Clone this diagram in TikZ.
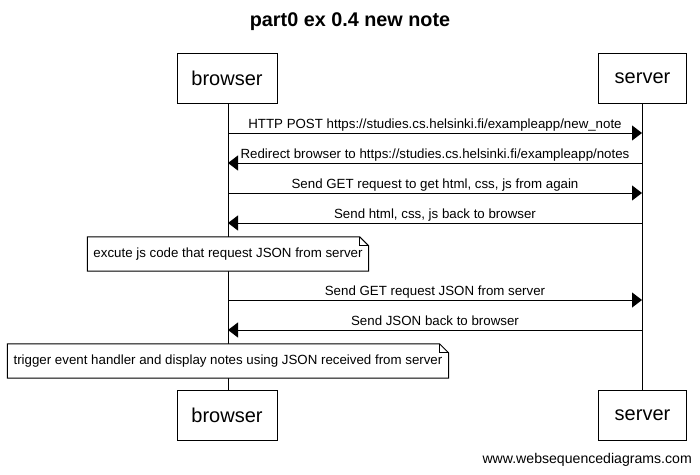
\documentclass[tikz,border=0pt]{standalone}
\usepackage{fontspec}
\setmainfont{Liberation Sans}
\usetikzlibrary{arrows.meta}
\begin{document}
\begin{tikzpicture}[x=1pt,y=-1pt,
  actor/.style={draw,line width=1pt,minimum width=100pt,minimum height=50pt,font=\fontsize{20}{24}\selectfont,inner sep=0pt,fill=white},
  actorS/.style={actor,minimum width=88pt},
  life/.style={line width=1pt},
  msg/.style={line width=1pt,-{Triangle[length=10pt,width=15pt]}},
  lbl/.style={anchor=base,font=\fontsize{13.3}{15}\selectfont,inner sep=0pt},
  notebox/.style={minimum height=34pt,inner xsep=6pt,font=\fontsize{13.3}{15}\selectfont},
  noteline/.style={line width=1pt,fill=white}
]
\useasboundingbox (0,0) rectangle (700,474);
\node[font=\bfseries\fontsize{19.8}{23}\selectfont] (title) at (350,22) {part0 ex 0.4 new note};
% actors
\node[actor] (bt) at (227,78) {browser};
\node[actorS] (st) at (642.5,78) {server};
\node[actor] (bb) at (227,415) {browser};
\node[actorS] (sb) at (642.5,415) {server};
% lifelines
\draw[life] (bt.south -| 228,0) coordinate (bl1) -- (bb.north -| 228,0) coordinate (bl2);
\draw[life] (st.south -| 642,0) coordinate (sl1) -- (sb.north -| 642,0) coordinate (sl2);
% message endpoints
\coordinate (b1) at (228,133); \coordinate (s1) at (642,133);
\coordinate (b2) at (228,163); \coordinate (s2) at (642,163);
\coordinate (b3) at (228,193); \coordinate (s3) at (642,193);
\coordinate (b4) at (228,223); \coordinate (s4) at (642,223);
\coordinate (b5) at (228,300); \coordinate (s5) at (642,300);
\coordinate (b6) at (228,330); \coordinate (s6) at (642,330);
\draw[msg] (b1) -- (s1) node[lbl,pos=0.5,yshift=5pt] (m1) {HTTP POST https://studies.cs.helsinki.fi/exampleapp/new\_note};
\draw[msg] (s2) -- (b2) node[lbl,pos=0.5,yshift=5pt] (m2) {Redirect browser to https://studies.cs.helsinki.fi/exampleapp/notes};
\draw[msg] (b3) -- (s3) node[lbl,pos=0.5,yshift=5pt] (m3) {Send GET request to get html, css, js from again};
\draw[msg] (s4) -- (b4) node[lbl,pos=0.5,yshift=5pt] (m4) {Send html, css, js back to browser};
\draw[msg] (b5) -- (s5) node[lbl,pos=0.5,yshift=5pt] (m5) {Send GET request JSON from server};
\draw[msg] (s6) -- (b6) node[lbl,pos=0.5,yshift=5pt] (m6) {Send JSON back to browser};
% notes
\node[notebox] (n1) at (228,254) {excute js code that request JSON from server};
\draw[noteline] (n1.south west) -- (n1.north west) -- ([xshift=-9pt]n1.north east) -- ([yshift=-9pt]n1.north east) -- (n1.south east) -- cycle;
\draw[line width=1pt] ([xshift=-9pt]n1.north east) |- ([yshift=-9pt]n1.north east);
\node[notebox] (n1t) at (n1) {excute js code that request JSON from server};
\node[notebox] (n2) at (228,361) {trigger event handler and display notes using JSON received from server};
\draw[noteline] (n2.south west) -- (n2.north west) -- ([xshift=-9pt]n2.north east) -- ([yshift=-9pt]n2.north east) -- (n2.south east) -- cycle;
\draw[line width=1pt] ([xshift=-9pt]n2.north east) |- ([yshift=-9pt]n2.north east);
\node[notebox] (n2t) at (n2) {trigger event handler and display notes using JSON received from server};
% footer
\node[anchor=base east,font=\fontsize{14.1}{16}\selectfont,inner sep=0pt] (foot) at (692,463) {www.websequencediagrams.com};
\end{tikzpicture}
\end{document}
